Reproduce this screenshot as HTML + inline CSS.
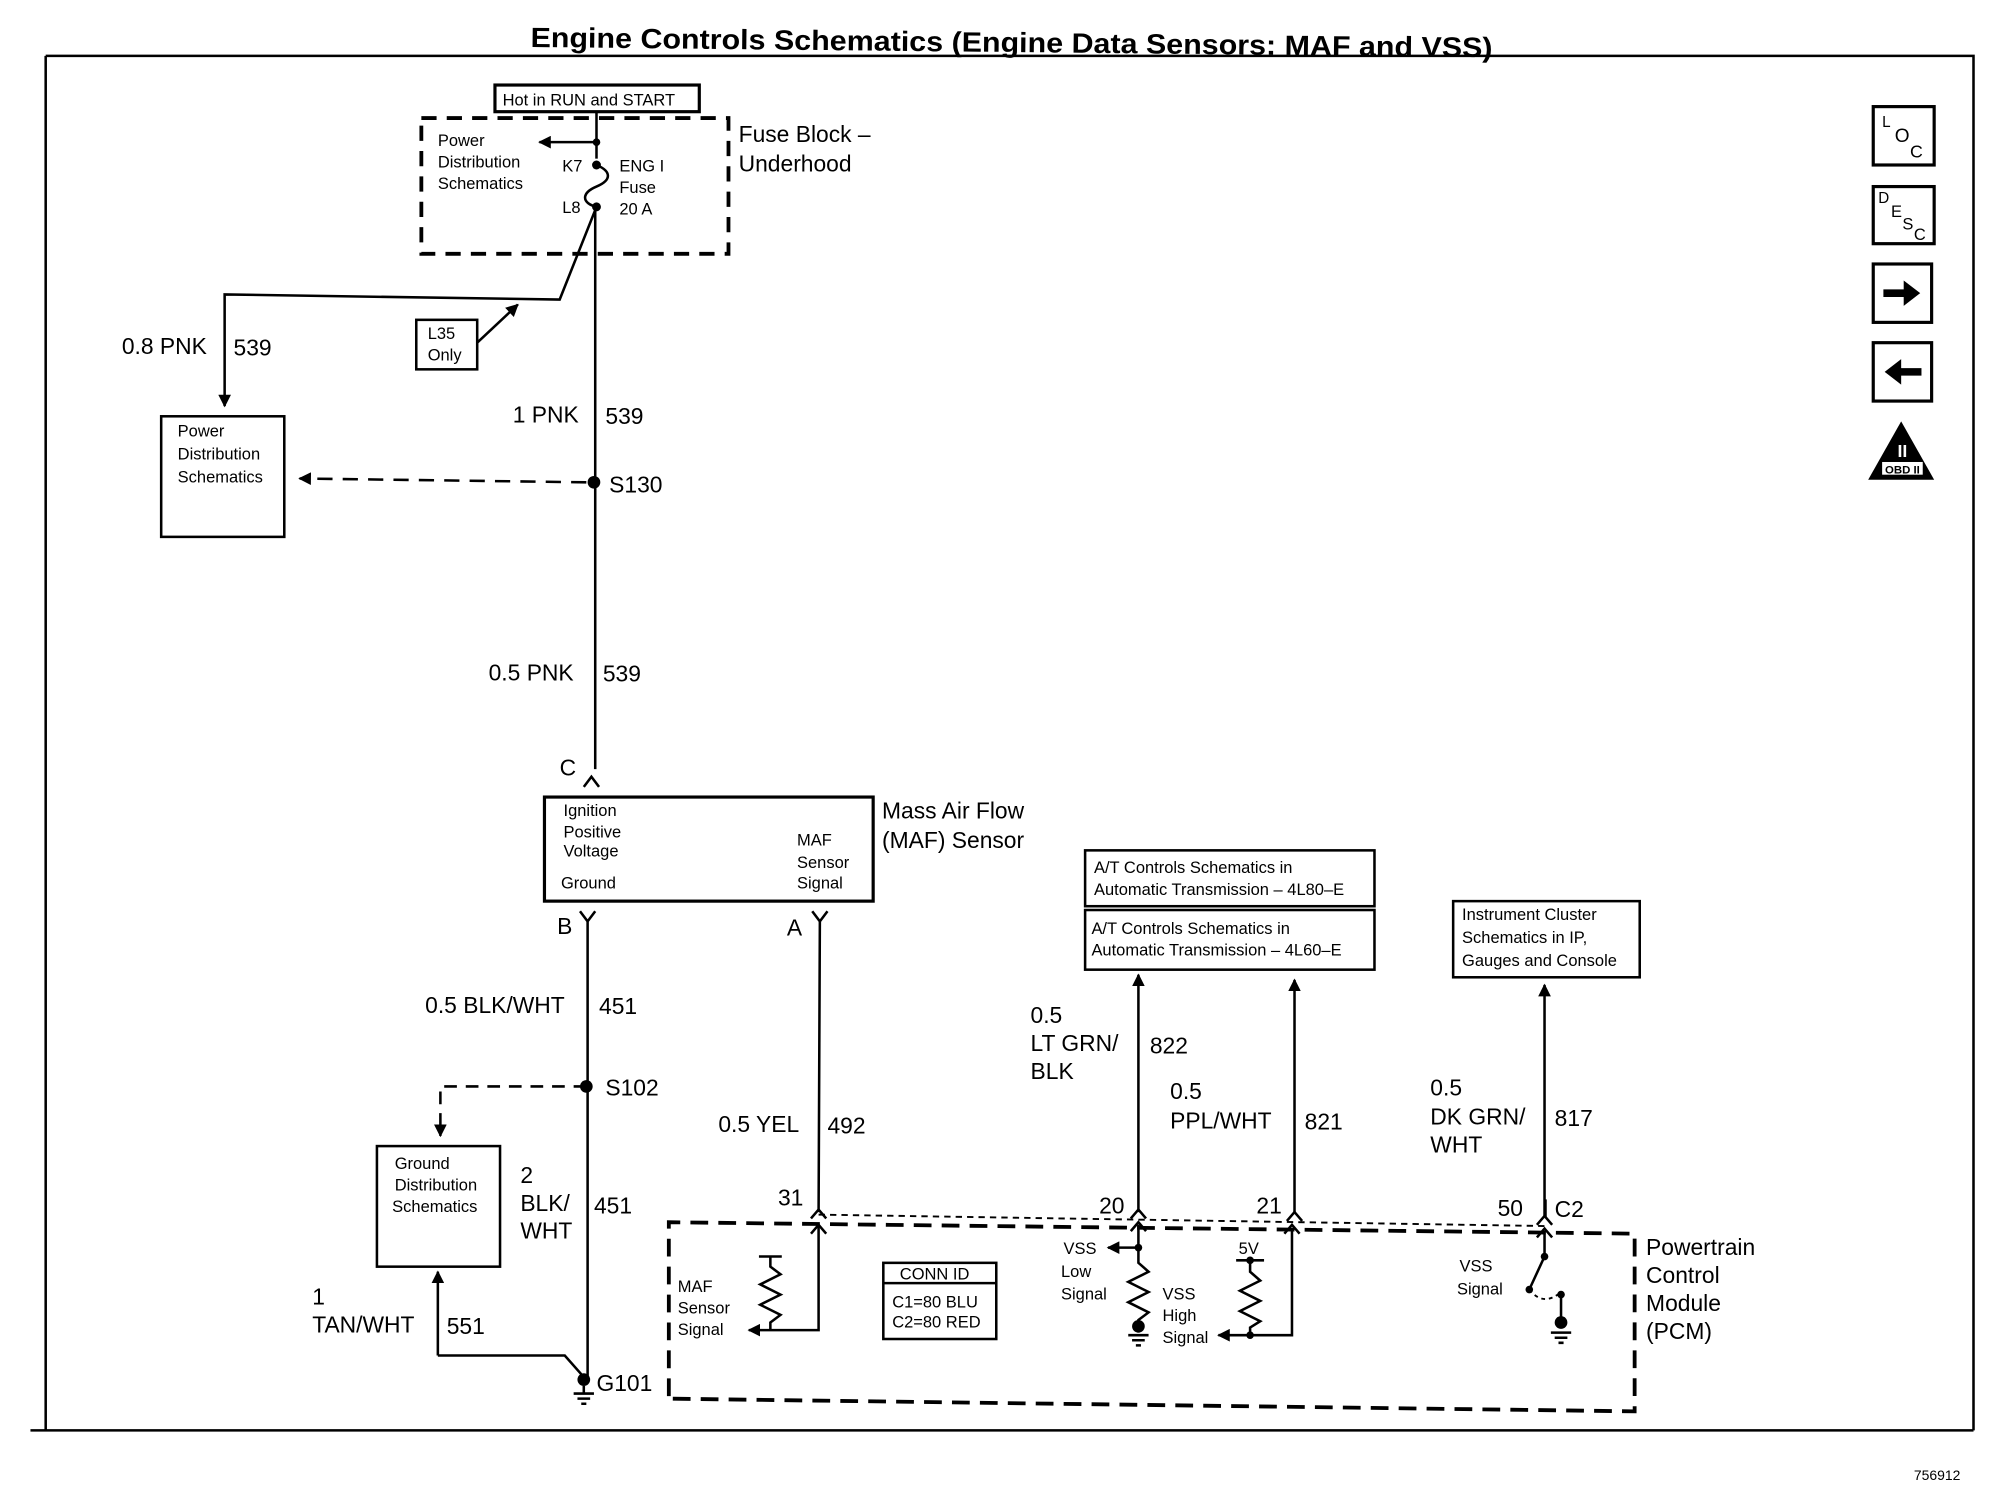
<!DOCTYPE html>
<html><head><meta charset="utf-8"><style>
html,body{margin:0;padding:0;background:#fff;}
svg{display:block;}
text{font-family:"Liberation Sans",Arial,sans-serif;fill:#000;}
</style></head><body>
<svg width="1990" height="1504" viewBox="0 0 1568 1185" preserveAspectRatio="none" xmlns="http://www.w3.org/2000/svg">
<defs>
<marker id="ah" viewBox="0 0 10 10" refX="9" refY="5" markerWidth="5" markerHeight="5" orient="auto-start-reverse"><path d="M0,0 L10,5 L0,10 z" fill="#000"/></marker>
</defs>
<g stroke="#000" stroke-width="2" fill="none">
<path d="M36,44 L1555,44 L1555,1127 M36,44 L36,1127 M24,1127 L1555,1127"/>
<rect x="390" y="67" width="161" height="21" stroke-width="2.5"/>
<rect x="332" y="93" width="242" height="107" stroke-width="3" stroke-dasharray="12,8"/>
<path d="M470,88 L470,125"/>
<path d="M470,112 L425,112" marker-end="url(#ah)"/>
<path d="M470,130 C482,135 482,142 470,147 C458,152 458,160 470,163"/>
<path d="M469,163 L469,606"/>
<path d="M470,163 L441,236 L177,232 L177,320" marker-end="url(#ah)"/>
<rect x="328" y="252" width="48" height="39"/>
<path d="M376,270 L408,240" marker-end="url(#ah)"/>
<rect x="127" y="328" width="97" height="95"/>
<path d="M462,380 L236,377" stroke-dasharray="12,8" marker-end="url(#ah)"/>
<path d="M460,620 L466,612 L472,620"/>
<rect x="429" y="628" width="259" height="82" stroke-width="2.5"/>
<path d="M457,718 L463,726 L469,718 M463,726 L463,1085"/>
<path d="M640,718 L646,726 L652,718 M646,726 L645,955"/>
<path d="M639,960 L645,953 L651,960"/>
<path d="M462,856 L347,856 L347,895" stroke-dasharray="10,7" marker-end="url(#ah)"/>
<rect x="297" y="903" width="97" height="95"/>
<path d="M345,1068 L345,1002" marker-end="url(#ah)"/>
<path d="M345,1068 L445,1068 L460,1085"/>
<path d="M460,1092 L460,1098 M452,1098 L468,1098 M455,1102 L465,1102 M458,1106 L462,1106"/>
<path d="M527,1100 L527,963 L1288,972 L1288,1112 L527,1102" stroke-width="3" stroke-dasharray="14,8"/>
<path d="M645,957 L1218,966" stroke-width="1.5" stroke-dasharray="5,4"/>
<path d="M598,990 L616,990 M607,990 L607,998 L615,1004 L599,1012 L615,1020 L599,1028 L615,1036 L607,1042 L607,1048"/>
<path d="M645,966 L645,1048 L590,1048" marker-end="url(#ah)"/>
<path d="M639,972 L645,965 L651,972"/>
<rect x="696" y="995" width="89" height="60"/>
<path d="M696,1011 L785,1011"/>
<path d="M897,770 L897,955"/>
<path d="M891,960 L897,953 L903,960 M891,970 L897,963 L903,970"/>
<path d="M897,965 L897,995 L905,1002 L889,1010 L905,1018 L889,1026 L905,1034 L897,1040 L897,1050"/>
<path d="M897,983 L873,983" marker-end="url(#ah)"/>
<path d="M889,1052 L905,1052 M892,1056 L902,1056 M895,1060 L899,1060"/>
<rect x="855" y="670" width="228" height="44"/>
<rect x="855" y="717" width="228" height="47"/>
<path d="M897,768 L897,776" marker-start="url(#ah)"/>
<path d="M1020,955 L1020,772" marker-end="url(#ah)"/>
<path d="M1014,962 L1020,955 L1026,962"/>
<path d="M1018,968 L1018,1052 L985,1052 M985,1052 L960,1052" marker-end="url(#ah)"/>
<path d="M974,993 L996,993 M985,993 L985,1002 L993,1009 L977,1017 L993,1025 L977,1033 L993,1041 L985,1046 L985,1052"/>
<path d="M1012,972 L1018,965 L1024,972"/>
<rect x="1145" y="710" width="147" height="60"/>
<path d="M1217,958 L1217,776" marker-end="url(#ah)"/>
<path d="M1211,965 L1217,958 L1223,965 M1211,975 L1217,968 L1223,975"/>
<path d="M1217,970 L1217,990 L1205,1016"/>
<path d="M1205,1016 Q1216,1030 1230,1018" stroke-width="1.5" stroke-dasharray="3,3"/>
<path d="M1230,1018 L1230,1042 M1222,1050 L1238,1050 M1225,1054 L1235,1054 M1228,1058 L1232,1058"/>
<rect x="1476" y="84" width="48" height="46" stroke-width="2.5"/>
<rect x="1476" y="147" width="48" height="45" stroke-width="2.5"/>
<rect x="1476" y="208" width="46" height="46" stroke-width="2.5"/>
<rect x="1476" y="270" width="46" height="46" stroke-width="2.5"/>
</g>
<g fill="#000">
<circle cx="470" cy="112" r="3"/><circle cx="470" cy="130" r="3.5"/><circle cx="470" cy="163" r="3.5"/>
<circle cx="468" cy="380" r="5"/><circle cx="462" cy="856" r="5"/><circle cx="460" cy="1087" r="5"/>
<circle cx="897" cy="983" r="3"/><circle cx="897" cy="1045" r="5"/><circle cx="985" cy="993" r="3"/><circle cx="985" cy="1052" r="3"/>
<circle cx="1217" cy="990" r="3"/><circle cx="1205" cy="1016" r="3"/><circle cx="1230" cy="1020" r="3"/><circle cx="1230" cy="1042" r="5"/>
<path d="M1484,228 L1500,228 L1500,221 L1513,231 L1500,241 L1500,234 L1484,234 z"/>
<path d="M1514,290 L1498,290 L1498,283 L1485,293 L1498,303 L1498,296 L1514,296 z"/>
<path d="M1498,332 L1524,378 L1472,378 z"/>
</g>
<rect x="1483" y="364" width="32" height="10" fill="#fff"/>
<text x="1499" y="360" font-size="14" font-weight="bold" text-anchor="middle" style="fill:#fff">II</text>
<text x="1499" y="373" font-size="9" font-weight="bold" text-anchor="middle">OBD II</text>
<text x="1483" y="100" font-size="12">L</text><text x="1493" y="112" font-size="15">O</text><text x="1505" y="124" font-size="14">C</text>
<text x="1480" y="160" font-size="12">D</text><text x="1490" y="171" font-size="13">E</text><text x="1499" y="181" font-size="13">S</text><text x="1508" y="189" font-size="13">C</text>

<text x="418" y="37" font-size="22" font-weight="bold" textLength="758" lengthAdjust="spacingAndGlyphs" transform="rotate(0.6 418 36)">Engine Controls Schematics (Engine Data Sensors: MAF and VSS)</text>
<text x="1508" y="1166" font-size="11">756912</text>
<text x="396" y="83" font-size="13">Hot in RUN and START</text>
<g font-size="13">
<text x="345" y="115">Power</text><text x="345" y="132">Distribution</text><text x="345" y="149">Schematics</text>
<text x="443" y="135">K7</text><text x="443" y="168">L8</text>
<text x="488" y="135">ENG I</text><text x="488" y="152">Fuse</text><text x="488" y="169">20 A</text>
<text x="337" y="267">L35</text><text x="337" y="284">Only</text>
<text x="140" y="344">Power</text><text x="140" y="362">Distribution</text><text x="140" y="380">Schematics</text>
<text x="444" y="643">Ignition</text><text x="444" y="660">Positive</text><text x="444" y="675">Voltage</text><text x="442" y="700">Ground</text>
<text x="628" y="666">MAF</text><text x="628" y="684">Sensor</text><text x="628" y="700">Signal</text>
<text x="311" y="921">Ground</text><text x="311" y="938">Distribution</text><text x="309" y="955">Schematics</text>
<text x="534" y="1018">MAF</text><text x="534" y="1035">Sensor</text><text x="534" y="1052">Signal</text>
<text x="709" y="1008">CONN ID</text><text x="703" y="1030">C1=80 BLU</text><text x="703" y="1046">C2=80 RED</text>
<text x="838" y="988">VSS</text><text x="836" y="1006">Low</text><text x="836" y="1024">Signal</text>
<text x="916" y="1024">VSS</text><text x="916" y="1041">High</text><text x="916" y="1058">Signal</text>
<text x="976" y="988">5V</text>
<text x="1150" y="1002">VSS</text><text x="1148" y="1020">Signal</text>
<text x="862" y="688">A/T Controls Schematics in</text><text x="862" y="705">Automatic Transmission – 4L80–E</text>
<text x="860" y="736">A/T Controls Schematics in</text><text x="860" y="753">Automatic Transmission – 4L60–E</text>
<text x="1152" y="725">Instrument Cluster</text><text x="1152" y="743">Schematics in IP,</text><text x="1152" y="761">Gauges and Console</text>
</g>
<g font-size="18">
<text x="582" y="112">Fuse Block –</text><text x="582" y="135">Underhood</text>
<text x="96" y="279">0.8 PNK</text><text x="184" y="280">539</text>
<text x="404" y="333">1 PNK</text><text x="477" y="334">539</text>
<text x="480" y="388">S130</text>
<text x="385" y="536">0.5 PNK</text><text x="475" y="537">539</text>
<text x="441" y="611">C</text>
<text x="695" y="645">Mass Air Flow</text><text x="695" y="668">(MAF) Sensor</text>
<text x="439" y="736">B</text><text x="620" y="737">A</text>
<text x="335" y="798">0.5 BLK/WHT</text><text x="472" y="799">451</text>
<text x="477" y="863">S102</text>
<text x="410" y="932">2</text><text x="410" y="954">BLK/</text><text x="410" y="976">WHT</text><text x="468" y="956">451</text>
<text x="246" y="1028">1</text><text x="246" y="1050">TAN/WHT</text><text x="352" y="1051">551</text>
<text x="470" y="1096">G101</text>
<text x="566" y="892">0.5 YEL</text><text x="652" y="893">492</text>
<text x="613" y="950">31</text>
<text x="812" y="806">0.5</text><text x="812" y="828">LT GRN/</text><text x="812" y="850">BLK</text><text x="906" y="830">822</text>
<text x="866" y="956">20</text>
<text x="922" y="866">0.5</text><text x="922" y="889">PPL/WHT</text><text x="1028" y="890">821</text>
<text x="990" y="956">21</text>
<text x="1127" y="863">0.5</text><text x="1127" y="886">DK GRN/</text><text x="1127" y="908">WHT</text><text x="1225" y="887">817</text>
<text x="1180" y="958">50</text><text x="1225" y="959">C2</text>
<text x="1297" y="989">Powertrain</text><text x="1297" y="1011">Control</text><text x="1297" y="1033">Module</text><text x="1297" y="1055">(PCM)</text>
</g>
<path d="M1218,945 L1218,960" stroke="#000" stroke-width="1.5"/>
</svg>
</body></html>
